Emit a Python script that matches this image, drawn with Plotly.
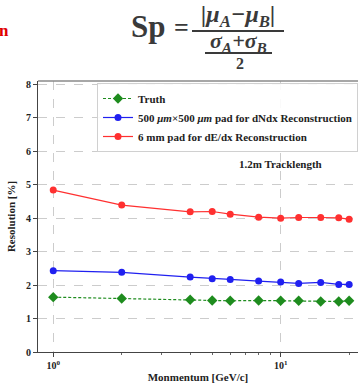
import plotly.graph_objects as go

momentum = [1, 2, 4, 5, 6, 8, 10, 12, 15, 18, 20]
truth = [1.64, 1.60, 1.56, 1.54, 1.53, 1.54, 1.53, 1.53, 1.51, 1.51, 1.53]
pad500 = [2.43, 2.38, 2.24, 2.19, 2.17, 2.12, 2.09, 2.05, 2.08, 2.02, 2.02]
pad6mm = [4.84, 4.39, 4.19, 4.20, 4.12, 4.03, 4.00, 4.02, 4.02, 4.01, 3.97]
yticks = [0, 1, 2, 3, 4, 5, 6, 7, 8]
xticks = [1, 10]
xticklabels = ["10<sup>0</sup>", "10<sup>1</sup>"]
names = ["Truth",
         "500 <i>μm</i>×500 <i>μm</i> pad for dNdx Reconstruction",
         "6 mm pad for dE/dx Reconstruction"]

W, H = 358, 386
L, R, T, B = 38, 0, 81, 34
SERIF = "Liberation Serif, Times New Roman, serif"

def px(x):
    return (x - L) / (W - L - R)

def py(y):
    return (H - B - y) / (H - T - B)

fig = go.Figure()
fig.add_trace(go.Scatter(x=momentum, y=truth, name=names[0], mode="lines+markers",
                         line=dict(color="#1e8c1e", width=1.2, dash="3px,2px"),
                         marker=dict(symbol="diamond", size=8, color="#1e8c1e")))
fig.add_trace(go.Scatter(x=momentum, y=pad500, name=names[1], mode="lines+markers",
                         line=dict(color="#2020f0", width=1.2),
                         marker=dict(symbol="circle", size=7, color="#2020f0")))
fig.add_trace(go.Scatter(x=momentum, y=pad6mm, name=names[2], mode="lines+markers",
                         line=dict(color="#ff3030", width=1.2),
                         marker=dict(symbol="circle", size=7, color="#ff3030")))

fig.update_layout(
    width=W, height=H,
    margin=dict(l=L, r=R, t=T, b=B, pad=0),
    paper_bgcolor="white", plot_bgcolor="white",
    font=dict(family=SERIF, size=10, color="#222"),
    showlegend=True,
    legend=dict(x=px(97), y=py(83), xanchor="left", yanchor="top",
                bgcolor="rgba(255,255,255,0.9)", bordercolor="#d0d0d0", borderwidth=1,
                font=dict(family=SERIF, size=11, color="#222", weight="bold"),
                tracegroupgap=0, itemwidth=30),
    xaxis=dict(type="log", range=[-0.067, 1.34],
               tickmode="array", tickvals=xticks, ticktext=xticklabels,
               ticks="outside", ticklen=4, tickcolor="#444",
               showline=True, linecolor="#444", linewidth=1,
               showgrid=True, gridcolor="#cccccc", griddash="dash", gridwidth=1,
               minor=dict(tickvals=[2, 3, 4, 5, 6, 7, 8, 9, 20], ticks="outside",
                          ticklen=2, tickcolor="#666", showgrid=False),
               tickfont=dict(family=SERIF, size=10, weight="bold"),
               title=dict(text="<b>Monmentum [GeV/c]</b>", standoff=3,
                          font=dict(family=SERIF, size=11)),
               zeroline=False),
    yaxis=dict(range=[0, 8.1], tickmode="array", tickvals=yticks,
               ticks="outside", ticklen=4, tickcolor="#444",
               showline=True, linecolor="#444", linewidth=1,
               showgrid=True, gridcolor="#cccccc", griddash="dash", gridwidth=1,
               tickfont=dict(family=SERIF, size=10, weight="bold"),
               title=dict(text="<b>Resolution [%]</b>", standoff=8,
                          font=dict(family=SERIF, size=11)),
               zeroline=False),
)

# top frame line
fig.add_shape(type="line", xref="paper", yref="paper", x0=0, x1=1, y0=1, y1=1,
              line=dict(color="#8a8a8a", width=1.5))

def note(text, x, y, size, color="#222", xanchor="center"):
    fig.add_annotation(text=text, xref="paper", yref="paper", x=px(x), y=py(y),
                       xanchor=xanchor, yanchor="middle", showarrow=False,
                       font=dict(family=SERIF, size=size, color=color))

note("<b>1.2m Tracklength</b>", 280, 164, 11)

# formula above the chart
FC = "#3a3a3a"
note("<b>Sp</b>", 148, 26, 31, FC)
note("<b>=</b>", 181, 27, 26, FC)
note("<b><i>|μ<sub>A</sub>−μ<sub>B</sub>|</i></b>", 238, 16, 24, FC)
fig.add_shape(type="line", xref="paper", yref="paper", x0=px(192), x1=px(284),
              y0=py(31), y1=py(31), line=dict(color=FC, width=2))
note("<b><i>σ<sub>A</sub>+σ<sub>B</sub></i></b>", 238, 42, 22, FC)
fig.add_shape(type="line", xref="paper", yref="paper", x0=px(205), x1=px(272),
              y0=py(53), y1=py(53), line=dict(color=FC, width=2))
note("<b>2</b>", 240, 64, 16, FC)
note("<b>n</b>", 11, 30, 17, "#e00000", xanchor="right")

fig.write_html("out.html")
